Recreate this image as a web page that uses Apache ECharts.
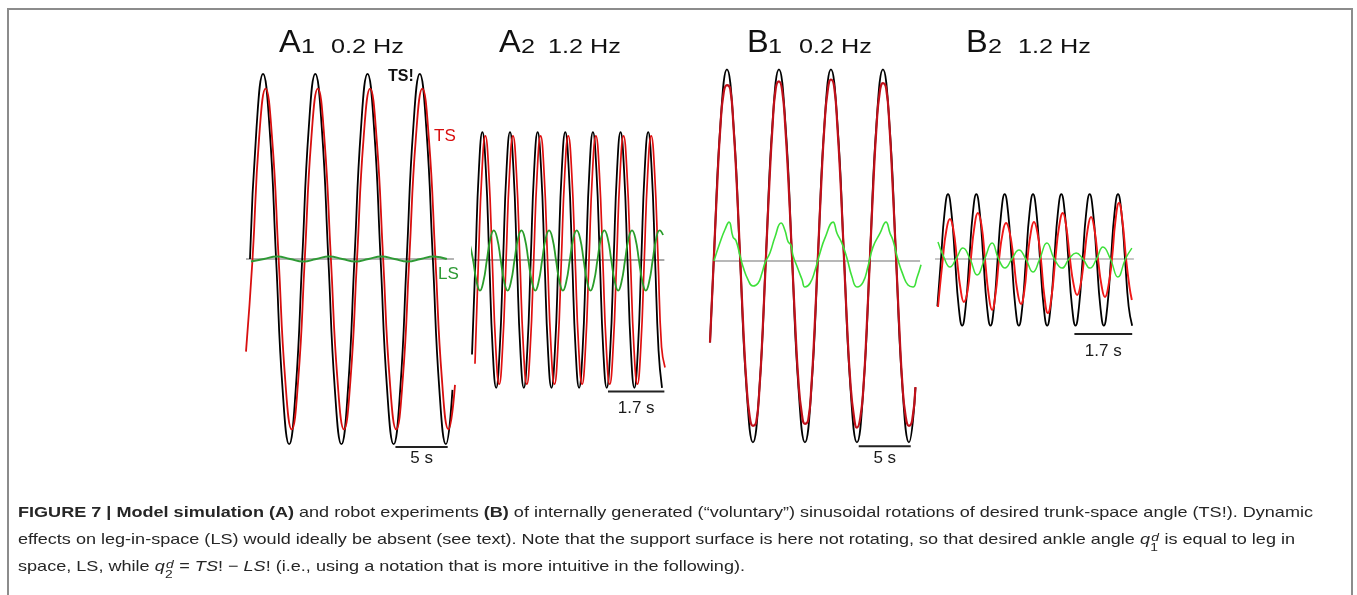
<!DOCTYPE html>
<html>
<head>
<meta charset="utf-8">
<title>Figure 7</title>
<script src="https://cdn.jsdelivr.net/npm/echarts@6/dist/echarts.min.js"></script>
<style>
  html, body { margin: 0; padding: 0; background: #fff; }
  #chart { width: 1357px; height: 595px; }
</style>
</head>
<body>
<div id="chart"></div>
<script>
// stimulus periods in seconds
const SLOW_PERIOD = 5;          // 0.2 Hz
const FAST_PERIOD = 1 / 1.2;    // 1.2 Hz
const SLOW_STEP = SLOW_PERIOD / 8;
const FAST_STEP = FAST_PERIOD / 8;

// A1 - model, 0.2 Hz
const a1CmdStart = 0.38;   // TS! (desired trunk-space)
const a1Cmd = [
  0, 7.07, 10, 7.07, 0, -7.07, -10, -7.07,
  0, 7.07, 10, 7.07, 0, -7.07, -10, -7.07,
  0, 7.07, 10, 7.07, 0, -7.07, -10, -7.07,
  0, 7.07, 10, 7.07, 0, -7.07, -10, -7.07
];
const a1TsStart = 0;       // TS (trunk-space)
const a1Ts = [
  -5.0, 0, 6.5, 9.2, 6.5, 0, -6.5, -9.2,
  -6.5, 0, 6.5, 9.2, 6.5, 0, -6.5, -9.2,
  -6.5, 0, 6.5, 9.2, 6.5, 0, -6.5, -9.2,
  -6.5, 0, 6.5, 9.2, 6.5, 0, -6.5, -9.2, -6.8
];
const a1LsStart = 0.47;    // LS (leg-in-space), every 1/4 period
const a1Ls = [-0.14, 0, 0.14, 0, -0.14, 0, 0.14, 0, -0.14, 0, 0.14, 0, -0.14, 0, 0.14, 0];

// A2 - model, 1.2 Hz
const a2CmdStart = 0;
const a2Cmd = [
  -5.1, 0, 4.9, 6.9, 4.9, 0, -4.9, -6.9,
  -4.9, 0, 4.9, 6.9, 4.9, 0, -4.9, -6.9,
  -4.9, 0, 4.9, 6.9, 4.9, 0, -4.9, -6.9,
  -4.9, 0, 4.9, 6.9, 4.9, 0, -4.9, -6.9,
  -4.9, 0, 4.9, 6.9, 4.9, 0, -4.9, -6.9,
  -4.9, 0, 4.9, 6.9, 4.9, 0, -4.9, -6.9,
  -4.9, 0, 4.9, 6.9, 4.9, 0, -4.9, -6.9
];
const a2TsStart = 0.09;
const a2Ts = [
  -5.6, 0, 4.7, 6.7, 4.7, 0, -4.7, -6.7,
  -4.7, 0, 4.7, 6.7, 4.7, 0, -4.7, -6.7,
  -4.7, 0, 4.7, 6.7, 4.7, 0, -4.7, -6.7,
  -4.7, 0, 4.7, 6.7, 4.7, 0, -4.7, -6.7,
  -4.7, 0, 4.7, 6.7, 4.7, 0, -4.7, -6.7,
  -4.7, 0, 4.7, 6.7, 4.7, 0, -4.7, -6.7,
  -4.7, 0, 4.7, 6.7, 4.7, 0, -4.7, -5.8
];
const a2LsStart = -0.072;
const a2Ls = [
  0.9, 0, -1.15, -1.65, -1.15, 0, 1.15, 1.6,
  1.15, 0, -1.15, -1.65, -1.15, 0, 1.15, 1.6,
  1.15, 0, -1.15, -1.65, -1.15, 0, 1.15, 1.6,
  1.15, 0, -1.15, -1.65, -1.15, 0, 1.15, 1.6,
  1.15, 0, -1.15, -1.65, -1.15, 0, 1.15, 1.6,
  1.15, 0, -1.15, -1.65, -1.15, 0, 1.15, 1.6,
  1.15, 0, -1.15, -1.65, -1.15, 0, 1.15, 1.6, 1.35
];

// B1 - robot, 0.2 Hz
const b1Head = [0, -4.4];
const b1CmdStart = 0.38;
const b1Cmd = [
  0.28, 7.4, 10.35, 7.4, 0.28, -6.84, -9.79, -6.84,
  0.28, 7.4, 10.35, 7.4, 0.28, -6.84, -9.79, -6.84,
  0.28, 7.4, 10.35, 7.4, 0.28, -6.84, -9.79, -6.84,
  0.28, 7.4, 10.35, 7.4, 0.28, -6.84, -9.79, -6.84
];
const b1TsStart = 0.38;    // every 1/16 period
const b1Ts = [
  0.3, 4.1, 7.3, 9.1, 9.5, 9.3, 7.3, 4.2, 0.4, -3.5, -6.6, -8.4, -8.9, -8.7, -6.9, -3.7,
  0.2, 4.0, 7.2, 9.3, 9.7, 9.2, 7.1, 4.0, 0.3, -3.4, -6.5, -8.2, -8.8, -8.6, -6.7, -3.5,
  0.3, 4.1, 7.3, 9.2, 9.8, 9.4, 7.2, 4.1, 0.2, -3.6, -6.6, -8.3, -9.0, -8.5, -6.8, -3.6,
  0.2, 4.0, 7.2, 9.1, 9.6, 9.3, 7.3, 4.0, 0.3, -3.5, -6.7, -8.4, -8.9, -8.6, -6.8
];
const b1Ls = [
  [0.38, 0.0], [0.96, 1.0], [1.44, 1.7], [1.83, 2.1], [2.21, 1.3], [2.5, 1.1], [2.88, 0.3],
  [3.17, -0.3], [3.65, -1.0], [4.13, -1.35], [4.62, -1.2], [5.0, -0.65], [5.29, -0.1],
  [5.77, 0.45], [6.25, 1.3], [6.83, 2.05], [7.21, 1.65], [7.5, 1.05], [7.79, 0.85],
  [7.98, 0.3], [8.37, -0.3], [8.85, -1.0], [9.13, -1.4], [9.62, -1.2], [10.1, -0.5],
  [10.58, 0.45], [11.06, 1.25], [11.83, 2.1], [12.21, 1.5], [12.69, 0.95], [13.17, 0.15],
  [13.65, -0.85], [14.13, -1.4], [14.71, -1.15], [15.19, -0.3], [15.67, 0.75], [16.35, 1.5],
  [16.92, 2.1], [17.31, 1.5], [17.6, 1.1], [18.08, 0.05], [18.56, -0.75], [19.04, -1.3],
  [19.52, -1.4], [19.9, -0.9], [20.29, -0.2]
];

// B2 - robot, 1.2 Hz
const b2CmdStart = 0.07;
const b2Cmd = [
  -2.55, -0.05, 2.45, 3.5, 2.45, -0.05, -2.55, -3.6,
  -2.55, -0.05, 2.45, 3.5, 2.45, -0.05, -2.55, -3.6,
  -2.55, -0.05, 2.45, 3.5, 2.45, -0.05, -2.55, -3.6,
  -2.55, -0.05, 2.45, 3.5, 2.45, -0.05, -2.55, -3.6,
  -2.55, -0.05, 2.45, 3.5, 2.45, -0.05, -2.55, -3.6,
  -2.55, -0.05, 2.45, 3.5, 2.45, -0.05, -2.55, -3.6,
  -2.55, -0.05, 2.45, 3.5, 2.45, -0.05, -2.55, -3.6
];
const b2Ts = [
  [0.088, -2.59], [0.23, 0.0], [0.33, 1.5], [0.44, 2.16], [0.54, 1.6], [0.645, 0.0],
  [0.75, -1.6], [0.85, -2.32], [0.96, -1.7], [1.055, 0.0], [1.16, 1.75], [1.26, 2.48],
  [1.37, 1.8], [1.47, 0.0], [1.58, -1.95], [1.68, -2.75], [1.78, -1.9], [1.885, 0.0],
  [1.99, 1.4], [2.09, 1.94], [2.2, 1.4], [2.31, 0.0], [2.42, -1.7], [2.53, -2.43],
  [2.63, -1.7], [2.72, 0.0], [2.82, 1.45], [2.91, 2.0], [3.01, 1.45], [3.115, 0.0],
  [3.22, -2.05], [3.32, -2.92], [3.43, -2.0], [3.54, 0.0], [3.65, 1.75], [3.76, 2.48],
  [3.86, 1.75], [3.97, 0.0], [4.08, -1.4], [4.18, -1.94], [4.28, -1.4], [4.385, 0.0],
  [4.49, 1.6], [4.59, 2.27], [4.69, 1.6], [4.795, 0.0], [4.9, -1.45], [5.0, -2.05],
  [5.1, -1.45], [5.205, 0.0], [5.31, 2.1], [5.41, 3.02], [5.51, 2.1], [5.62, 0.0],
  [5.72, -1.5], [5.79, -2.21]
];
const b2Ls = [
  [0.088, 0.92], [0.26, 0.1], [0.44, -0.43], [0.63, 0.05], [0.82, 0.59], [1.03, 0.0],
  [1.24, -0.86], [1.46, 0.0], [1.68, 0.86], [1.87, 0.0], [2.06, -0.49], [2.26, 0.0],
  [2.47, 0.49], [2.67, 0.0], [2.88, -0.7], [3.08, 0.0], [3.29, 0.86], [3.51, 0.0],
  [3.74, -0.49], [3.94, 0.0], [4.15, 0.32], [4.35, 0.0], [4.56, -0.49], [4.75, 0.0],
  [4.94, 0.65], [5.16, 0.0], [5.38, -0.97], [5.6, 0.0], [5.79, 0.59]
];

// zero reference lines and time scale bars [t, deg]
const a1Zero = [[0, 0], [19.9, 0]];
const a2Zero = [[0, 0], [5.8, 0]];
const b1Zero = [[0.38, 0], [20.2, 0]];
const b2Zero = [[0, 0], [5.85, 0]];
const a1Bar = [[14.3, -10.15], [19.3, -10.15]];
const a2Bar = [[4.1, -7.1], [5.8, -7.1]];
const b1Bar = [[14.3, -10.0], [19.3, -10.0]];
const b2Bar = [[4.1, -4.05], [5.8, -4.05]];
const barLabels = ['5 s', '1.7 s', '5 s', '1.7 s'];

const panelLetters = ['A', 'A', 'B', 'B'];
const panelIndex = ['1', '2', '1', '2'];
const panelFreqs = ['0.2 Hz', '1.2 Hz', '0.2 Hz', '1.2 Hz'];

// ---------------------------------------------------------------
const FONT = '"Liberation Sans", Arial, Helvetica, sans-serif';
const TEXT = '#262626';

function sampled(t0, dt, ys) {
  return ys.map((y, i) => [t0 + i * dt, y]);
}

const grids = [
  { left: 246, top: 59, width: 209, height: 400 },
  { left: 472, top: 60, width: 199, height: 400 },
  { left: 710, top: 61, width: 218.4, height: 400 },
  { left: 935, top: 59, width: 204, height: 400 }
];
const xMax = [20, 6, 21, 6];

function trace(g, data, color, width) {
  return {
    type: 'line', xAxisIndex: g, yAxisIndex: g, data: data,
    smooth: true, showSymbol: false, clip: false, silent: true,
    lineStyle: { color: color, width: width }
  };
}
function straight(g, data, color, width) {
  return {
    type: 'line', xAxisIndex: g, yAxisIndex: g, data: data,
    showSymbol: false, clip: false, silent: true,
    lineStyle: { color: color, width: width }
  };
}
function barLabel(g, bar, text, dist) {
  return {
    type: 'scatter', xAxisIndex: g, yAxisIndex: g, silent: true,
    symbolSize: 0.01, itemStyle: { color: '#222', opacity: 1 },
    data: [[(bar[0][0] + bar[1][0]) / 2, bar[0][1]]],
    label: {
      show: true, position: 'bottom', distance: dist, formatter: text,
      fontFamily: FONT, fontSize: 17, color: '#1a1a1a', opacity: 1
    }
  };
}

const series = [
  // A1
  straight(0, a1Zero, '#b4b4b4', 2.2),
  trace(0, sampled(a1CmdStart, SLOW_STEP, a1Cmd), '#000', 1.8),
  trace(0, sampled(a1TsStart, SLOW_STEP, a1Ts), '#d80f0f', 1.8),
  trace(0, sampled(a1LsStart, SLOW_PERIOD / 4, a1Ls), '#2e9a35', 2),
  straight(0, a1Bar, '#222', 2),
  barLabel(0, a1Bar, barLabels[0], 3),
  // A2
  straight(1, a2Zero, '#a8a8a8', 1.8),
  trace(1, sampled(a2CmdStart, FAST_STEP, a2Cmd), '#000', 1.8),
  trace(1, sampled(a2TsStart, FAST_STEP, a2Ts), '#e01010', 1.7),
  trace(1, sampled(a2LsStart, FAST_STEP, a2Ls), '#2a9d2a', 1.8),
  straight(1, a2Bar, '#222', 2),
  barLabel(1, a2Bar, barLabels[1], 8),
  // B1
  straight(2, b1Zero, '#a0a0a0', 1.3),
  trace(2, [b1Head].concat(sampled(b1CmdStart, SLOW_STEP, b1Cmd)), '#000', 1.8),
  trace(2, [b1Head].concat(sampled(b1TsStart, SLOW_STEP / 2, b1Ts)), '#c0101a', 2.2),
  trace(2, b1Ls, '#3ee03a', 1.6),
  straight(2, b1Bar, '#222', 2),
  barLabel(2, b1Bar, barLabels[2], 4),
  // B2
  straight(3, b2Zero, '#909090', 1.2),
  trace(3, sampled(b2CmdStart, FAST_STEP, b2Cmd), '#000', 1.8),
  trace(3, b2Ts, '#f01818', 1.9),
  trace(3, b2Ls, '#3ee03a', 1.5),
  straight(3, b2Bar, '#222', 2),
  barLabel(3, b2Bar, barLabels[3], 9)
];

// ---- text layout helpers
const measureCtx = document.createElement('canvas').getContext('2d');
function textWidth(text, size, weight, style) {
  measureCtx.font = style + ' ' + weight + ' ' + size + 'px ' + FONT;
  return measureCtx.measureText(text).width;
}
function txt(text, x, y, size, extra) {
  return {
    type: 'text', x: x, y: y, silent: true,
    scaleX: (extra && extra.scaleX) || 1,
    style: Object.assign({
      text: text, fill: TEXT, fontFamily: FONT, fontSize: size,
      fontWeight: 'normal', fontStyle: 'normal',
      align: 'left', verticalAlign: 'middle'
    }, extra && extra.style)
  };
}

const graphics = [];
// frame
graphics.push({
  type: 'polyline', silent: true,
  shape: { points: [[8, 600], [8, 9], [1352, 9], [1352, 600]] },
  style: { stroke: '#8c8c8c', lineWidth: 2, fill: null }
});

// panel titles
const titleX = [[279, 301, 331], [499, 521, 548], [747, 768, 799], [966, 988, 1018]];
panelLetters.forEach((letter, i) => {
  const c = '#111';
  graphics.push(txt(letter, titleX[i][0], 43, 31, { scaleX: 1.05, style: { fill: c } }));
  graphics.push(txt(panelIndex[i], titleX[i][1], 47, 21, { scaleX: 1.2, style: { fill: c } }));
  graphics.push(txt(panelFreqs[i], titleX[i][2], 47, 21, { scaleX: 1.2, style: { fill: c } }));
});

// trace names in A1
graphics.push(txt('TS!', 388, 77, 16, { style: { fill: '#111', fontWeight: 'bold' } }));
graphics.push(txt('TS', 434, 136, 17, { style: { fill: '#d80f0f' } }));
graphics.push(txt('LS', 438, 274, 17, { style: { fill: '#2e9a35' } }));

// caption
const CAP = 15, SCRIPT = 11.5;
const captionLines = [
  { y: 513, right: 1313, segs: [
    ['b', 'FIGURE 7 | Model simulation (A)'],
    ['r', ' and robot experiments '],
    ['b', '(B)'],
    ['r', ' of internally generated (\u201cvoluntary\u201d) sinusoidal rotations of desired trunk-space angle (TS!). Dynamic']
  ]},
  { y: 540, right: 1295, segs: [
    ['r', 'effects on leg-in-space (LS) would ideally be absent (see text). Note that the support surface is here not rotating, so that desired ankle angle '],
    ['i', 'q'],
    ['s', 'd', '1'],
    ['r', ' is equal to leg in']
  ]},
  { y: 567, right: 745, segs: [
    ['r', 'space, LS, while '],
    ['i', 'q'],
    ['s', 'd', '2'],
    ['r', ' = '],
    ['i', 'TS'],
    ['r', '! \u2212 '],
    ['i', 'LS'],
    ['r', '! (i.e., using a notation that is more intuitive in the following).']
  ]}
];
const segStyle = {
  r: { fontWeight: 'normal', fontStyle: 'normal' },
  b: { fontWeight: 'bold', fontStyle: 'normal' },
  i: { fontWeight: 'normal', fontStyle: 'italic' }
};
captionLines.forEach(line => {
  const children = [];
  let x = 0;
  line.segs.forEach(seg => {
    if (seg[0] === 's') {
      const w1 = textWidth(seg[1], SCRIPT, 'normal', 'italic');
      const w2 = textWidth(seg[2], SCRIPT, 'normal', 'normal');
      children.push(txt(seg[1], x + 1, -2.5, SCRIPT, { style: { fontStyle: 'italic' } }));
      children.push(txt(seg[2], x + 0.3, 7.5, SCRIPT));
      x += Math.max(w1 + 1, w2 + 0.3) + 0.5;
    } else {
      const st = segStyle[seg[0]];
      children.push(txt(seg[1], x, 0, CAP, { style: st }));
      x += textWidth(seg[1], CAP, st.fontWeight, st.fontStyle);
    }
  });
  graphics.push({
    type: 'group', x: 18, y: line.y, scaleX: (line.right - 18) / x, children: children
  });
});

const chart = echarts.init(document.getElementById('chart'));
chart.setOption({
  animation: false,
  backgroundColor: '#fff',
  grid: grids,
  xAxis: grids.map((g, i) => ({ gridIndex: i, type: 'value', min: 0, max: xMax[i], show: false })),
  yAxis: grids.map((g, i) => ({ gridIndex: i, type: 'value', min: -10.8, max: 10.8, show: false })),
  series: series,
  graphic: { elements: graphics }
});
</script>
</body>
</html>
